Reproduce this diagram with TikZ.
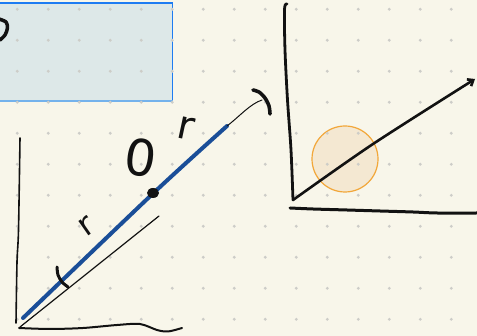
\documentclass[tikz,border=0pt]{standalone}
\usepackage{fontspec}
\newfontfamily\handfont{DejaVu Sans}
\usetikzlibrary{arrows.meta,shapes.geometric}
\definecolor{bg}{HTML}{F8F6EA}
\definecolor{boxfill}{HTML}{DDE8E8}
\definecolor{boxblue}{HTML}{1E7CF2}
\definecolor{boxlight}{HTML}{74B2EC}
\definecolor{dotc}{HTML}{CDCDC8}
\definecolor{ink}{HTML}{121212}
\definecolor{penblue}{HTML}{1A4E98}
\definecolor{circfill}{HTML}{F4E8D2}
\definecolor{circline}{HTML}{F2A73A}
\tikzset{
  pen/.style={draw=ink, line cap=round, line join=round},
  thinpen/.style={pen, line width=1.1},
  thickpen/.style={pen, line width=3},
  hand/.style={font=\handfont, text=ink, inner sep=0pt},
}
\begin{document}
\begin{tikzpicture}[x=1pt,y=-1pt]
\useasboundingbox (0,0) rectangle (477,336);
\fill[bg] (0,0) rectangle (477,336);
\begin{scope}
\clip (0,0) rectangle (477,336);
% blue box
\fill[boxfill] (-5,3) rectangle (172.5,101.5);
\draw[boxblue, line width=1.2] (-5,3) -- (172.5,3) -- (172.5,101.5);
\draw[boxlight, line width=2] (-5,101.5) -- (172.5,101.5);
% circle
\node[circle, minimum size=66, fill=circfill, draw=circline, line width=1.2, inner sep=0] (circ) at (345,159) {};
% dots
\foreach \i in {0,...,14} \foreach \j in {0,...,10}
  \fill[dotc] (17.3+31*\i, 9.3+31*\j) circle (1.6);
% curve inside box
\draw[thickpen, line width=3.5] plot[smooth] coordinates {(-1,19) (6,22) (7.5,28) (5,35) (0,40)};
\end{scope}

% ---- left diagram ----
\draw[thinpen, line width=1.6] plot[smooth] coordinates {(20,138) (18.5,230) (17,262) (16,323)};
\draw[thinpen, line width=2] plot[smooth] coordinates {(19,328) (50,329) (83,328) (117,325) (140,324) (157,330) (168,331.5) (182,328)};
\coordinate (dA) at (20,327);
\coordinate (dB) at (159,216);
\draw[thinpen, line width=1.2] (dA) -- (dB);
\coordinate (bA) at (23,318);
\coordinate (bB) at (227,126);
\draw[penblue, line width=4, line cap=round] plot[smooth] coordinates {(23,318) (153,193.5) (227,126)};
\node[ellipse, fill=ink, minimum width=12, minimum height=10, inner sep=0] (pt) at (153,193) {};
\coordinate (tE) at (262,100);
\draw[thinpen, line width=1] (bB) .. controls (240,116) and (250,104) .. (tE);
% brackets
\draw[thickpen, line width=3.6] plot[smooth] coordinates {(253,90) (259,92) (265,98) (269,106) (270,114)};
\draw[thickpen, line width=3] plot[smooth] coordinates {(57,267) (58,275) (62,282) (68,287)};
% labels
\node[hand, font=\handfont\fontsize{50}{50}\selectfont, rotate=-8] (zero) at (141,158) {0};
\node[hand, font=\handfont\fontsize{40}{40}\selectfont, rotate=-12] (rUp) at (186,128) {r};
\node[hand, font=\handfont\fontsize{32}{32}\selectfont, rotate=35] (rLow) at (87,226) {r};

% ---- right diagram ----
\draw[thickpen, line width=2.8] plot[smooth] coordinates {(287,4) (284.5,9) (285,50) (287.5,100) (291,150) (293,200)};
\draw[thickpen, line width=3] plot[smooth] coordinates {(290,208) (313,209) (347,210) (380,211) (413,212) (437,213) (477,213)};
\coordinate (ro) at (293,200);
\coordinate (rt) at (475,79);
\draw[thickpen, line width=2.6, -{Straight Barb[length=5pt,width=8pt]}] plot[smooth] coordinates {(ro) (373,144) (rt)};
\end{tikzpicture}
\end{document}
